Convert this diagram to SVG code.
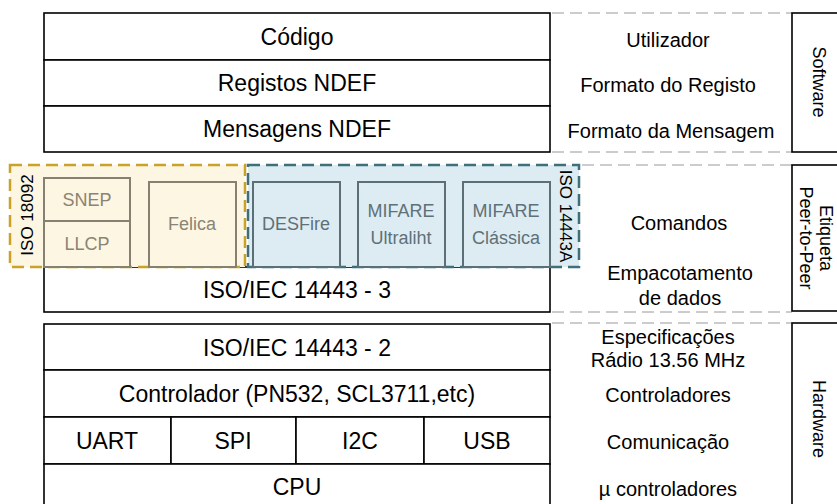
<svg xmlns="http://www.w3.org/2000/svg" width="837" height="504" viewBox="0 0 837 504">
  <style>
    text { font-family: "Liberation Sans", Arial, sans-serif; dominant-baseline: central; text-anchor: middle; }
    .box { fill: #ffffff; stroke: #000000; stroke-width: 1.6; }
    .main { font-size: 23px; fill: #000000; }
    .note { font-size: 20px; fill: #000000; }
    .side { font-size: 18px; fill: #000000; }
    .guide { stroke: #cccccc; stroke-width: 2; stroke-dasharray: 12 6; fill: none; }
    .nfcf { fill: #fdf6e3; stroke: #c9a227; stroke-width: 2.5; stroke-dasharray: 12 6; }
    .nfca { fill: #ddebf2; stroke: #3f6f7b; stroke-width: 2.5; stroke-dasharray: 12 6; }
    .fbox { fill: #fdf6e3; stroke: #85806f; stroke-width: 2; }
    .abox { fill: #ddebf2; stroke: #5c6f76; stroke-width: 2; }
    .ftxt { font-size: 18px; fill: #8a8474; }
    .atxt { font-size: 18px; fill: #5e7179; }
    .tag { font-size: 17px; fill: #000000; }
  </style>

  <!-- dashed guide lines between the stack and the side boxes -->
  <g id="connectors">
    <line class="guide" x1="552" y1="13" x2="792" y2="13"/>
    <line class="guide" x1="552" y1="152" x2="792" y2="152"/>
    <line class="guide" x1="582" y1="165" x2="792" y2="165"/>
    <line class="guide" x1="552" y1="312" x2="792" y2="312"/>
    <line class="guide" x1="552" y1="323" x2="792" y2="323"/>
  </g>

  <!-- software layers -->
  <g id="codigo">
    <rect class="box" x="44" y="13" width="506" height="47"/>
    <text class="main" x="297" y="37">Código</text>
  </g>
  <g id="registos">
    <rect class="box" x="44" y="60" width="506" height="46"/>
    <text class="main" x="297" y="83">Registos NDEF</text>
  </g>
  <g id="mensagens">
    <rect class="box" x="44" y="106" width="506" height="46"/>
    <text class="main" x="297" y="129">Mensagens NDEF</text>
  </g>

  <!-- ISO/IEC 14443-3 -->
  <g id="iso3">
    <rect class="box" x="44" y="267" width="506" height="45"/>
    <text class="main" x="297" y="290">ISO/IEC 14443 - 3</text>
  </g>

  <!-- ISO 18092 group -->
  <g id="iso18092">
    <rect class="nfcf" x="10" y="165" width="235" height="102"/>
    <text class="tag" transform="translate(27 215) rotate(-90)">ISO 18092</text>
  </g>
  <g id="snep-llcp">
    <rect class="fbox" x="44" y="178" width="86" height="89"/>
    <line x1="44" y1="221" x2="130" y2="221" stroke="#85806f" stroke-width="2"/>
    <text class="ftxt" x="87" y="200">SNEP</text>
    <text class="ftxt" x="87" y="244">LLCP</text>
  </g>
  <g id="felica">
    <rect class="fbox" x="149" y="182" width="87" height="85"/>
    <text class="ftxt" x="192" y="224">Felica</text>
  </g>

  <!-- ISO 14443A group -->
  <g id="iso14443a">
    <rect class="nfca" x="248" y="165" width="331" height="102"/>
    <text class="tag" transform="translate(565 216) rotate(90)">ISO 14443A</text>
  </g>
  <g id="desfire">
    <rect class="abox" x="253" y="182" width="87" height="85"/>
    <text class="atxt" x="296" y="224">DESFire</text>
  </g>
  <g id="ultralight">
    <rect class="abox" x="358" y="182" width="87" height="85"/>
    <text class="atxt" x="401" y="211">MIFARE</text>
    <text class="atxt" x="401" y="238">Ultraliht</text>
  </g>
  <g id="classic">
    <rect class="abox" x="463" y="182" width="87" height="85"/>
    <text class="atxt" x="506" y="211">MIFARE</text>
    <text class="atxt" x="506" y="238">Clássica</text>
  </g>

  <!-- hardware layers -->
  <g id="iso2">
    <rect class="box" x="44" y="324" width="506" height="46"/>
    <text class="main" x="297" y="348">ISO/IEC 14443 - 2</text>
  </g>
  <g id="controlador">
    <rect class="box" x="44" y="370" width="506" height="47"/>
    <text class="main" x="297" y="394">Controlador (PN532, SCL3711,etc)</text>
  </g>
  <g id="uart">
    <rect class="box" x="44" y="417" width="127" height="47"/>
    <text class="main" x="107" y="441">UART</text>
  </g>
  <g id="spi">
    <rect class="box" x="171" y="417" width="125" height="47"/>
    <text class="main" x="233" y="441">SPI</text>
  </g>
  <g id="i2c">
    <rect class="box" x="296" y="417" width="128" height="47"/>
    <text class="main" x="360" y="441">I2C</text>
  </g>
  <g id="usb">
    <rect class="box" x="424" y="417" width="126" height="47"/>
    <text class="main" x="487" y="441">USB</text>
  </g>
  <g id="cpu">
    <rect class="box" x="44" y="464" width="506" height="50"/>
    <text class="main" x="297" y="487">CPU</text>
  </g>

  <!-- layer descriptions -->
  <g id="descricoes">
    <text class="note" x="668" y="40">Utilizador</text>
    <text class="note" x="668" y="85">Formato do Registo</text>
    <text class="note" x="671" y="131">Formato da Mensagem</text>
    <text class="note" x="679" y="223">Comandos</text>
    <text class="note" x="680" y="273">Empacotamento</text>
    <text class="note" x="680" y="298">de dados</text>
    <text class="note" x="668" y="337">Especificações</text>
    <text class="note" x="668" y="360">Rádio 13.56 MHz</text>
    <text class="note" x="668" y="395">Controladores</text>
    <text class="note" x="668" y="442">Comunicação</text>
    <text class="note" x="668" y="489">µ controladores</text>
  </g>

  <!-- side category boxes -->
  <g id="software">
    <rect class="box" x="792" y="13" width="60" height="139"/>
    <text class="side" transform="translate(819 82) rotate(90)">Software</text>
  </g>
  <g id="etiqueta">
    <rect class="box" x="792" y="165" width="60" height="146"/>
    <text class="side" transform="translate(826 238) rotate(90)">Etiqueta</text>
    <text class="side" transform="translate(806 238) rotate(90)">Peer-to-Peer</text>
  </g>
  <g id="hardware">
    <rect class="box" x="792" y="323" width="60" height="195"/>
    <text class="side" transform="translate(819 419) rotate(90)">Hardware</text>
  </g>
</svg>
